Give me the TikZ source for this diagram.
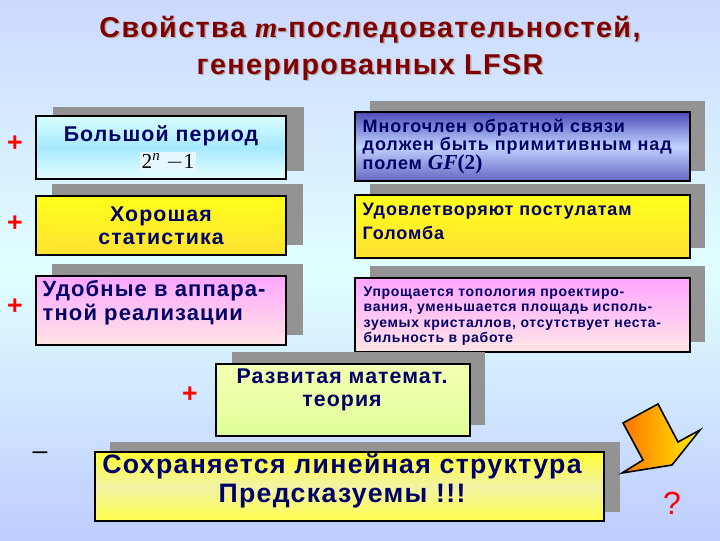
\documentclass[tikz,border=0pt]{standalone}
\usepackage{fontspec}
\setmainfont{Liberation Sans}[LetterSpace=5]
\newfontfamily\serifm{Liberation Serif}
\begin{document}
\begin{tikzpicture}[x=0.75pt,y=-0.75pt,
 box/.style={draw=black,line width=1.2pt},
 shad/.style={fill=gray!85},
 txt/.style={font=\bfseries,text=blue!40!black,align=center},
 pm/.style={text=red,font=\bfseries\fontsize{20}{20}\selectfont}]
\shade[top color=cyan!25!blue!20,bottom color=cyan!20!blue!25,middle color=cyan!12] (0,0) rectangle (720,540);
\useasboundingbox (0,0) rectangle (720,540);
% title
\foreach \d/\c in {1.5/gray!60,0/red!50!black}{
\node[text=\c,font=\bfseries\fontsize{21.5}{28}\selectfont,align=center] (t\d) at (370+\d,48+\d) {Свойства {\serifm\itshape m}-последовательностей,\\генерированных LFSR};}
% left boxes
\fill[shad] (53,107) rectangle (304,171);
\shade[box,top color=cyan!15,bottom color=cyan!10,middle color=blue!25!cyan!35] (36,116) rectangle (286,179);
\node[txt,font=\bfseries\fontsize{16}{17}\selectfont] (a1) at (161,136) {Большой период};
\node[fill=cyan!10,inner sep=1pt] (a1m) at (168,162) {\serifm\fontsize{16}{16}\selectfont 2\textsuperscript{\itshape n} $-$1};
\fill[shad] (52,184) rectangle (303,245);
\shade[box,top color=yellow!90!white,bottom color=yellow!70!orange!80] (36,196) rectangle (286,255);
\node[txt,font=\bfseries\fontsize{16}{17}\selectfont] (a2) at (161,226) {Хорошая\\статистика};
\fill[shad] (52,264) rectangle (303,335);
\shade[box,top color=magenta!35,bottom color=pink!40] (36,276) rectangle (286,345);
\node[txt,font=\bfseries\fontsize{16.5}{18}\selectfont,align=left,anchor=north west] (a3) at (38,276) {Удобные в аппара-\\тной реализации};
% right boxes
\fill[shad] (370,101) rectangle (705,171);
\shade[box,top color=blue!60!black!70,bottom color=blue!60!black!60,middle color=cyan!30!blue!25] (355,112) rectangle (690,181);
\node[txt,font=\bfseries\fontsize{13.5}{14}\selectfont,align=left,anchor=north west] (b1) at (358,114) {Многочлен обратной связи\\должен быть примитивным над\\полем {\serifm\fontsize{16}{13}\selectfont\itshape GF}{\serifm\fontsize{16}{13}\selectfont(2)}};
\fill[shad] (370,184) rectangle (705,248);
\shade[box,top color=yellow!90!white,bottom color=yellow!70!orange!80] (355,195) rectangle (690,258);
\node[txt,font=\bfseries\fontsize{13.5}{18}\selectfont,align=left,anchor=north west] (b2) at (358,198) {Удовлетворяют постулатам\\Голомба};
\fill[shad] (370,266) rectangle (705,342);
\shade[box,top color=magenta!35,bottom color=pink!40] (355,278) rectangle (690,352);
\node[txt,font=\bfseries\fontsize{10.5}{11.5}\selectfont,align=left,anchor=north west] (b3) at (359,282) {Упрощается топология проектиро-\\вания, уменьшается площадь исполь-\\зуемых кристаллов, отсутствует неста-\\бильность в работе};
% center box
\fill[shad] (232,352) rectangle (485,425);
\shade[box,top color=green!15!yellow!30,bottom color=green!30!yellow!40] (216,364) rectangle (470,436);
\node[txt,font=\bfseries\fontsize{16}{17}\selectfont] (c) at (342,390) {Развитая математ.\\теория};
% bottom box
\fill[shad] (110,442) rectangle (620,512);
\shade[box,top color=yellow!80!white,bottom color=yellow!70,middle color=gray!25!yellow!40] (95,452) rectangle (604,521);
\node[txt,font=\bfseries\fontsize{20}{22}\selectfont] (d) at (342,481) {Сохраняется линейная структура\\Предсказуемы !!!};
% signs
\node[pm] (p1) at (15,144) {+};
\node[pm] (p2) at (15,224) {+};
\node[pm] (p3) at (15,307) {+};
\node[pm] (p4) at (190,395) {+};
\node[text=black,font=\fontsize{20}{20}\selectfont] (m1) at (40,456) {--};
\node[text=red,font=\fontsize{24}{24}\selectfont] (q) at (672,503) {?};
% arrow
\shade[draw=black,line width=1.2pt,left color=orange!90!red,right color=yellow!90!orange,line join=miter]
 (623,423) -- (658,404) -- (678,442) -- (700,430) -- (672,465) -- (622,473) -- (643,460) -- cycle;
\end{tikzpicture}
\end{document}
